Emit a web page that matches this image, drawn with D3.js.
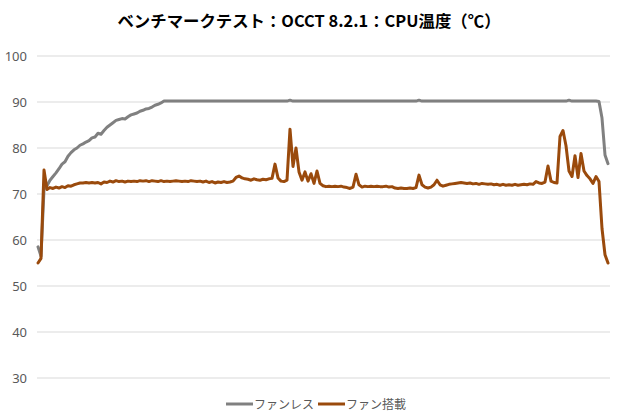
<!DOCTYPE html>
<html>
<head>
<meta charset="utf-8">
<script src="https://cdn.jsdelivr.net/npm/d3@7"></script>
<style>
  body { margin: 0; background: #fff; }
  svg text { font-family: "Noto Sans CJK JP", "Noto Sans", sans-serif; }
</style>
</head>
<body>
<svg id="chart" width="620" height="420"></svg>
<script>
const title = 'ベンチマークテスト：OCCT 8.2.1：CPU温度（℃）';
const seriesNames = ['ファンレス', 'ファン搭載'];
const yTicks = [30, 40, 50, 60, 70, 80, 90, 100];

// one sample every step
const fanless = [
  58.5, 56.5, 71.0, 71.8, 73.0, 73.8, 74.6, 75.5, 76.5, 77.0,
  78.2, 79.0, 79.6, 80.0, 80.6, 80.9, 81.3, 81.6, 82.2, 82.4,
  83.2, 83.0, 83.8, 84.5, 85.0, 85.5, 86.0, 86.2, 86.4, 86.3,
  86.8, 87.2, 87.4, 87.6, 88.0, 88.2, 88.5, 88.6, 88.9, 89.3,
  89.5, 89.8, 90.2, 90.2, 90.2, 90.2, 90.2, 90.2, 90.2, 90.2,
  90.2, 90.2, 90.2, 90.2, 90.2, 90.2, 90.2, 90.2, 90.2, 90.2,
  90.2, 90.2, 90.2, 90.2, 90.2, 90.2, 90.2, 90.2, 90.2, 90.2,
  90.2, 90.2, 90.2, 90.2, 90.2, 90.2, 90.2, 90.2, 90.2, 90.2,
  90.2, 90.2, 90.2, 90.2, 90.4, 90.2, 90.2, 90.2, 90.2, 90.2,
  90.2, 90.2, 90.2, 90.2, 90.2, 90.2, 90.2, 90.2, 90.2, 90.2,
  90.2, 90.2, 90.2, 90.2, 90.2, 90.2, 90.2, 90.2, 90.2, 90.2,
  90.2, 90.2, 90.2, 90.2, 90.2, 90.2, 90.2, 90.2, 90.2, 90.2,
  90.2, 90.2, 90.2, 90.2, 90.2, 90.2, 90.2, 90.4, 90.2, 90.2,
  90.2, 90.2, 90.2, 90.2, 90.2, 90.2, 90.2, 90.2, 90.2, 90.2,
  90.2, 90.2, 90.2, 90.2, 90.2, 90.2, 90.2, 90.2, 90.2, 90.2,
  90.2, 90.2, 90.2, 90.2, 90.2, 90.2, 90.2, 90.2, 90.2, 90.2,
  90.2, 90.2, 90.2, 90.2, 90.2, 90.2, 90.2, 90.2, 90.2, 90.2,
  90.2, 90.2, 90.2, 90.2, 90.2, 90.2, 90.2, 90.4, 90.2, 90.2,
  90.2, 90.2, 90.2, 90.2, 90.2, 90.2, 90.2, 90.1, 86.5, 78.5,
  76.6
];

const withFan = [
  55.0, 56.0, 75.2, 71.0, 71.4, 71.2, 71.5, 71.3, 71.6, 71.4,
  71.8, 71.7, 72.0, 72.2, 72.4, 72.4, 72.5, 72.4, 72.5, 72.4,
  72.5, 72.2, 72.6, 72.5, 72.8, 72.6, 72.9, 72.7, 72.8, 72.6,
  72.8, 72.7, 72.8, 72.7, 72.9, 72.8, 72.9, 72.7, 72.9, 72.8,
  72.7, 72.9, 72.7, 72.8, 72.7, 72.8, 72.9, 72.8, 72.7, 72.8,
  72.7, 72.9, 72.8, 72.7, 72.8, 72.6, 72.8, 72.5, 72.7, 72.4,
  72.6, 72.5, 72.7, 72.5, 72.6, 72.8, 73.6, 73.9, 73.5, 73.3,
  73.2, 73.0, 73.3, 73.1, 73.0, 73.2, 73.1, 73.3, 73.4, 76.5,
  73.5, 72.8, 72.7, 73.0, 84.1, 76.0, 80.0, 74.8, 73.0, 74.8,
  72.8, 74.4, 72.3, 75.0, 72.3, 71.8, 71.6, 71.7, 71.6, 71.7,
  71.6, 71.7, 71.5, 71.4, 71.2, 71.5, 74.3, 72.0, 71.5, 71.7,
  71.6, 71.7, 71.6, 71.7, 71.6, 71.6, 71.7, 71.5, 71.6, 71.3,
  71.2, 71.3, 71.2, 71.2, 71.3, 71.2, 71.4, 74.1, 72.0, 71.5,
  71.3, 71.5, 72.0, 73.0, 72.0, 71.7, 71.9, 72.1, 72.2, 72.3,
  72.4, 72.5, 72.4, 72.3, 72.4, 72.2, 72.3, 72.1, 72.3, 72.2,
  72.1, 72.2, 72.0, 72.1, 71.9, 72.1, 71.9, 72.0, 71.9, 72.1,
  71.9, 72.0, 72.1, 72.0, 72.2, 72.1, 72.7, 72.4, 72.3, 72.6,
  76.1, 72.8, 72.5, 72.4, 82.5, 83.8, 80.5, 75.0, 73.8, 78.3,
  73.6, 78.8, 75.0, 74.0, 73.3, 72.3, 73.8, 72.7, 62.5, 56.8,
  55.0
];

const colors = ['#808080', '#9a4a0c'];

const svg = d3.select('#chart');

const x = d3.scaleLinear()
  .domain([0, withFan.length - 1])
  .range([38, 608]);
const y = d3.scaleLinear()
  .domain([30, 100])
  .range([378, 56]);

// title
svg.append('text')
  .attr('x', 309).attr('y', 27)
  .attr('text-anchor', 'middle')
  .style('font-size', '16.4px')
  .style('font-weight', 'bold')
  .attr('fill', '#000')
  .text(title);

// grid
svg.append('g')
  .selectAll('line').data(yTicks)
  .enter().append('line')
  .attr('x1', 37).attr('x2', 610)
  .attr('y1', d => y(d)).attr('y2', d => y(d))
  .style('stroke', '#d9d9d9')
  .style('stroke-width', 1);

// y axis labels
const yAxis = d3.axisLeft(y).tickValues(yTicks).tickSize(0).tickPadding(0);
svg.append('g')
  .attr('transform', 'translate(27,0)')
  .call(yAxis)
  .call(g => g.select('.domain').remove())
  .call(g => g.selectAll('text')
    .attr('fill', '#595959')
    .style('font-size', '13px')
    .style('font-family', '"Noto Sans", sans-serif'));

// lines
const line = d3.line()
  .x((d, i) => x(i))
  .y(d => y(d))
  .curve(d3.curveLinear);

[fanless, withFan].forEach((s, k) => {
  svg.append('path')
    .datum(s)
    .attr('d', line)
    .attr('fill', 'none')
    .style('stroke', colors[k])
    .style('stroke-width', 3)
    .style('stroke-linejoin', 'round')
    .style('stroke-linecap', 'round');
});

// legend
const legendX = [226, 318];
const legend = svg.append('g');
seriesNames.forEach((name, k) => {
  legend.append('line')
    .attr('x1', legendX[k]).attr('x2', legendX[k] + 27)
    .attr('y1', 404).attr('y2', 404)
    .style('stroke', colors[k])
    .style('stroke-width', 3);
  legend.append('text')
    .attr('x', legendX[k] + 28).attr('y', 408.5)
    .attr('fill', '#595959')
    .style('font-size', '12px')
    .text(name);
});
</script>
</body>
</html>
